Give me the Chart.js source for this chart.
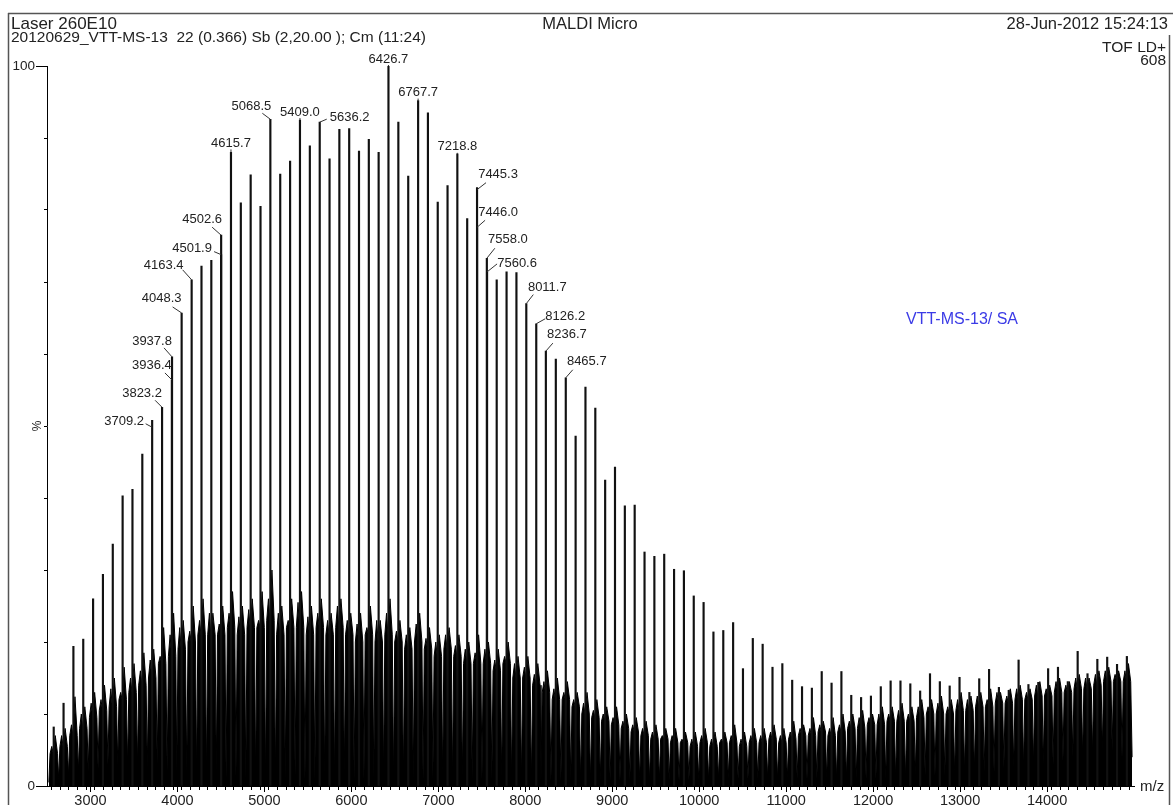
<!DOCTYPE html>
<html>
<head>
<meta charset="utf-8">
<title>VTT-MS-13 / SA — MALDI spectrum</title>
<script src="https://cdn.jsdelivr.net/npm/chart.js@4.4.1/dist/chart.umd.min.js"></script>
<style>
  html, body { margin: 0; padding: 0; background: #fff; }
  #wrap { width: 1173px; height: 805px; position: relative; }
</style>
</head>
<body>
<div id="wrap"><canvas id="spectrum" width="1173" height="805"></canvas></div>
<script>
// Main oligomer series (centroided m/z) and relative intensity (%)
const peakMz = [
  2577.2, 2690.4, 2803.6, 2916.8, 3030.0, 3143.2, 3256.4, 3369.6, 3482.8, 3596.0,
  3709.2, 3823.2, 3937.8, 4048.3, 4163.4, 4276.5, 4389.6, 4502.6, 4615.7, 4728.9,
  4842.1, 4955.3, 5068.5, 5182.0, 5295.5, 5409.0, 5522.6, 5636.2, 5749.1, 5862.0,
  5975.0, 6087.9, 6200.8, 6313.7, 6426.7, 6540.4, 6654.0, 6767.7, 6880.5, 6993.3,
  7106.0, 7218.8, 7332.0, 7445.3, 7558.0, 7671.4, 7784.8, 7898.3, 8011.7, 8126.2,
  8236.7, 8351.2, 8465.7, 8578.9, 8692.1, 8805.3, 8918.5, 9031.7, 9144.9, 9258.1,
  9371.3, 9484.5, 9597.7, 9710.9, 9824.1, 9937.3, 10050.5, 10163.7, 10276.9, 10390.1,
  10503.3, 10616.5, 10729.7, 10842.9, 10956.1, 11069.3, 11182.5, 11295.7, 11408.9, 11522.1,
  11635.3, 11748.5, 11861.7, 11974.9, 12088.1, 12201.3, 12314.5, 12427.7, 12540.9, 12654.1,
  12767.3, 12880.5, 12993.7, 13106.9, 13220.1, 13333.3, 13446.5, 13559.7, 13672.9, 13786.1,
  13899.3, 14012.5, 14125.7, 14238.9, 14352.1, 14465.3, 14578.5, 14691.7, 14804.9, 14918.1
];
const peakInt = [
  8.2, 11.5, 19.4, 20.4, 26.0, 29.4, 33.6, 40.3, 41.2, 46.1,
  50.8, 52.6, 59.6, 65.7, 70.3, 72.2, 73.0, 76.5, 88.0, 81.0,
  84.9, 80.5, 92.6, 85.0, 86.8, 92.5, 88.9, 92.2, 87.1, 91.2,
  91.3, 88.2, 89.8, 88.0, 100.0, 92.2, 84.7, 95.2, 93.5, 81.1,
  83.4, 87.8, 78.8, 83.1, 73.3, 70.3, 71.4, 71.3, 67.0, 64.2,
  60.4, 59.3, 56.7, 48.6, 55.4, 52.5, 42.5, 44.3, 38.9, 39.0,
  32.5, 31.9, 32.2, 30.1, 29.9, 26.4, 25.5, 21.4, 21.6, 22.7,
  16.3, 20.5, 19.7, 16.5, 17.0, 14.7, 13.8, 13.6, 15.9, 14.3,
  15.9, 12.6, 12.3, 12.5, 13.8, 14.6, 14.6, 14.2, 13.2, 15.6,
  14.5, 13.9, 15.1, 13.0, 14.9, 16.2, 13.7, 13.3, 17.5, 14.1,
  14.4, 16.3, 16.5, 14.5, 18.7, 15.6, 17.6, 17.9, 16.9, 18.0
];

// Background cluster around each oligomer:
// valley before it, cluster level, leading spike, trailing satellite spike
const valleyInt = [
  0.5, 1.0, 1.5, 2.0, 2.0, 2.5, 3.0, 3.0, 3.0, 3.0,
  2.5, 3.0, 2.0, 2.0, 2.0, 1.5, 1.5, 2.0, 1.0, 1.5,
  1.0, 1.0, 1.0, 1.0, 1.0, 1.5, 1.0, 1.0, 1.0, 1.0,
  1.5, 1.0, 1.0, 1.0, 1.5, 1.0, 1.0, 1.0, 1.0, 1.0,
  1.0, 1.0, 1.0, 1.0, 1.0, 1.0, 1.0, 1.0, 1.0, 0.8,
  0.8, 0.8, 0.8, 0.8, 0.8, 0.8, 0.8, 0.8, 0.8, 0.8,
  0.8, 0.8, 0.8, 0.8, 0.8, 0.8, 0.8, 0.8, 1.0, 1.0,
  1.0, 1.0, 1.0, 1.0, 1.0, 1.0, 1.0, 1.0, 1.0, 1.0,
  1.0, 1.0, 1.0, 1.0, 1.0, 1.0, 1.0, 1.0, 1.5, 1.5,
  1.5, 1.5, 1.5, 2.0, 2.0, 2.0, 2.0, 2.5, 2.5, 2.5,
  3.0, 3.0, 3.0, 3.5, 4.0, 4.0, 4.5, 5.0, 5.0, 4.0
];
const clusterInt = [
  4.5, 5.5, 7.0, 8.0, 9.5, 10.5, 11.0, 12.0, 13.0, 14.0,
  15.0, 17.0, 18.0, 19.0, 20.0, 21.0, 21.0, 21.0, 22.0, 21.0,
  22.0, 22.0, 23.0, 21.0, 22.0, 22.0, 21.0, 22.0, 21.0, 22.0,
  21.0, 20.0, 21.0, 20.0, 21.0, 20.0, 19.0, 20.0, 19.0, 18.0,
  19.0, 18.0, 17.0, 17.0, 17.0, 16.0, 17.0, 15.0, 15.0, 14.0,
  13.0, 12.0, 12.0, 11.0, 10.0, 9.5, 9.0, 8.5, 8.0, 7.5,
  7.0, 6.5, 6.5, 6.0, 6.0, 5.5, 6.0, 5.5, 6.0, 6.0,
  5.5, 6.0, 6.0, 6.5, 6.0, 6.5, 7.0, 7.0, 7.5, 7.0,
  7.5, 8.0, 8.0, 8.5, 8.5, 9.0, 9.0, 9.0, 9.5, 10.0,
  10.0, 10.0, 10.5, 10.5, 11.0, 11.0, 11.5, 11.5, 12.0, 12.0,
  12.5, 12.5, 13.0, 13.0, 13.5, 13.5, 14.0, 14.5, 14.5, 14.5
];
const leadInt = [
  5.5, 7.0, 8.5, 10.0, 11.5, 12.0, 13.5, 13.0, 15.0, 16.0,
  17.5, 18.0, 21.0, 22.0, 21.5, 23.0, 24.0, 22.5, 24.0, 23.5,
  24.5, 23.0, 26.0, 24.0, 23.0, 25.5, 23.5, 24.0, 23.0, 25.0,
  23.0, 22.5, 22.0, 23.0, 24.0, 21.5, 21.0, 22.5, 20.5, 20.0,
  21.0, 19.5, 19.0, 18.5, 19.0, 17.5, 18.0, 17.0, 16.5, 15.5,
  14.5, 13.5, 13.0, 12.0, 11.5, 10.5, 10.0, 9.5, 9.0, 8.5,
  8.0, 7.5, 7.0, 7.0, 6.5, 6.5, 7.0, 6.5, 6.5, 7.0,
  6.5, 7.0, 7.0, 7.5, 7.0, 7.5, 8.0, 8.0, 8.5, 8.0,
  8.5, 9.0, 9.5, 9.5, 10.0, 10.0, 10.5, 10.0, 11.0, 11.0,
  11.5, 11.0, 12.0, 12.0, 12.5, 12.0, 13.0, 12.5, 13.5, 13.0,
  14.0, 13.5, 14.5, 14.0, 15.0, 15.0, 15.5, 16.0, 15.5, 16.0
];
const satelliteInt = [
  7.0, 8.0, 12.4, 11.0, 13.0, 14.0, 15.0, 16.5, 17.0, 18.5,
  19.0, 22.0, 24.0, 23.0, 25.0, 26.0, 24.0, 25.0, 27.0, 25.0,
  26.0, 27.0, 30.0, 25.0, 26.0, 27.0, 25.0, 26.0, 24.0, 26.0,
  24.0, 24.0, 25.0, 23.0, 26.0, 23.0, 22.0, 24.0, 22.0, 21.0,
  22.0, 21.0, 20.0, 21.0, 20.0, 19.0, 20.0, 18.0, 18.0, 17.0,
  16.0, 15.0, 14.5, 13.0, 13.0, 12.0, 11.0, 11.0, 10.0, 9.5,
  9.0, 8.5, 8.0, 8.0, 7.5, 7.5, 8.0, 7.5, 7.5, 8.5,
  7.5, 8.0, 8.0, 8.5, 8.0, 9.0, 8.5, 9.5, 9.0, 9.5,
  10.0, 10.0, 10.5, 10.0, 11.0, 11.0, 11.5, 11.0, 12.0, 12.0,
  12.5, 12.0, 13.0, 12.5, 13.0, 13.5, 13.0, 13.5, 14.0, 13.5,
  14.5, 14.0, 15.0, 14.5, 15.5, 15.0, 16.0, 16.5, 16.0, 17.0
];

// Partly resolved neighbours of labelled oligomers
const shoulderMz = [3936.4, 4501.9, 7446.0, 7560.6];
const shoulderInt = [56.4, 73.8, 77.6, 71.4];

// Annotated masses
const labelMz = [
  3709.2, 3823.2, 3936.4, 3937.8, 4048.3, 4163.4, 4501.9, 4502.6, 4615.7, 5068.5,
  5409.0, 5636.2, 6426.7, 6767.7, 7218.8, 7445.3, 7446.0, 7558.0, 7560.6, 8011.7,
  8126.2, 8236.7, 8465.7
];

// Axis labels
const xTickLabels = [3000, 4000, 5000, 6000, 7000, 8000, 9000, 10000, 11000, 12000, 13000, 14000];
const yTickLabels = [0, 100];

// Label placement (px): [text dx, text dy, leader start dx, leader start dy, leader end drop]
const labelPlacement = [
  [-28, 1.5, -6.5, 3.5, 7],
  [-20, -14, -7, -7, 0],
  [-20, -14, -7, -7, 0],
  [-20, -15, -8, -9, 0],
  [-20, -15, -9, -6, 0],
  [-28, -14, -9, -10, 0],
  [-29, -6, -7, -3, 0],
  [-19, -16, -9, -8, 0],
  [0, -9, 0, 0, 0],
  [-19, -13, -8, -6, 0],
  [0, -8, 0, 0, 0],
  [30, -5, 7, -3, 0],
  [0, -7, 0, 0, 0],
  [0, -8, 0, 0, 0],
  [0, -7, 0, 0, 0],
  [21, -13, 9, -5, 2],
  [21, -15, 8, -7, 0],
  [21, -19, 8, -10, 0],
  [30, -8, 10, -8, 0],
  [21, -16, 7, -9, 0],
  [29, -7, 9, -5, 0],
  [21, -17, 7, -8, 0],
  [21, -16, 7, -8, 0]
];

const FONT = '"Liberation Sans", Arial, Helvetica, sans-serif';
const INK = '#222';

// Continuous background trace built from the cluster readings
const profile = [];
peakMz.forEach((m, i) => {
  profile.push({ x: m - 56, y: valleyInt[i] });
  profile.push({ x: m - 42, y: clusterInt[i] });
  profile.push({ x: m - 22, y: leadInt[i] });
  profile.push({ x: m - 6, y: clusterInt[i] });
  profile.push({ x: m + 18, y: satelliteInt[i] });
  profile.push({ x: m + 44, y: clusterInt[i] });
});
profile.push({ x: peakMz[peakMz.length - 1] + 60, y: valleyInt[valleyInt.length - 1] });

const sticks = peakMz.map((m, i) => ({ x: m, y: peakInt[i] }));
const shoulderSticks = shoulderMz.map((m, i) => ({ x: m, y: shoulderInt[i] }));

const decorations = {
  id: 'decorations',
  afterDraw(chart) {
    const { ctx } = chart;
    const xs = chart.scales.x, ys = chart.scales.y;
    ctx.save();

    // page frame
    ctx.strokeStyle = '#555';
    ctx.lineWidth = 1.5;
    ctx.beginPath();
    ctx.moveTo(8, 13.5); ctx.lineTo(1173, 13.5);
    ctx.moveTo(8.5, 13); ctx.lineTo(8.5, 805);
    ctx.moveTo(1169.5, 35); ctx.lineTo(1169.5, 805);
    ctx.stroke();

    // longer ticks at labelled positions
    ctx.strokeStyle = '#000';
    ctx.lineWidth = 1;
    ctx.beginPath();
    yTickLabels.forEach(v => {
      const py = Math.round(ys.getPixelForValue(v)) + 0.5;
      ctx.moveTo(ys.right - 11, py); ctx.lineTo(ys.right, py);
    });
    xTickLabels.forEach(v => {
      const px = Math.round(xs.getPixelForValue(v)) + 0.5;
      ctx.moveTo(px, xs.top); ctx.lineTo(px, xs.top + 6);
    });
    ctx.stroke();

    // header
    ctx.fillStyle = INK;
    ctx.textBaseline = 'middle';
    ctx.textAlign = 'left';
    ctx.font = '17px ' + FONT;
    ctx.fillText('Laser 260E10', 11, 24);
    ctx.font = '15.5px ' + FONT;
    ctx.fillText('20120629_VTT-MS-13  22 (0.366) Sb (2,20.00 ); Cm (11:24)', 11, 37.5);
    ctx.textAlign = 'center';
    ctx.font = '16.5px ' + FONT;
    ctx.fillText('MALDI Micro', 590, 24);
    ctx.textAlign = 'right';
    ctx.fillText('28-Jun-2012 15:24:13', 1168, 24);
    ctx.font = '15.5px ' + FONT;
    ctx.fillText('TOF LD+', 1166, 47.5);
    ctx.fillText('608', 1166, 61);

    // sample name
    ctx.textAlign = 'center';
    ctx.fillStyle = '#3b3be6';
    ctx.font = '16px ' + FONT;
    ctx.fillText('VTT-MS-13/ SA', 962, 320);

    // axis titles
    ctx.fillStyle = INK;
    ctx.font = '15px ' + FONT;
    ctx.textAlign = 'left';
    ctx.fillText('m/z', 1140, 787);
    ctx.save();
    ctx.translate(38, ys.getPixelForValue(50));
    ctx.rotate(-Math.PI / 2);
    ctx.textAlign = 'center';
    ctx.font = '12px ' + FONT;
    ctx.fillText('%', 0, 0);
    ctx.restore();

    // peak annotations
    ctx.font = '13px ' + FONT;
    ctx.textAlign = 'center';
    ctx.textBaseline = 'middle';
    ctx.fillStyle = INK;
    ctx.strokeStyle = '#333';
    ctx.lineWidth = 1;
    labelMz.forEach((m, i) => {
      let k = peakMz.indexOf(m);
      const v = k >= 0 ? peakInt[k] : shoulderInt[shoulderMz.indexOf(m)];
      const px = xs.getPixelForValue(m), py = ys.getPixelForValue(v);
      const [tx, ty, sx, sy, drop] = labelPlacement[i];
      const cx = px + tx, cy = py + ty;
      ctx.fillText(m.toFixed(1), cx, cy);
      ctx.beginPath();
      if (tx === 0) {
        ctx.moveTo(px, cy + 6); ctx.lineTo(px, py);
      } else {
        ctx.moveTo(px + sx, py + sy); ctx.lineTo(px, py + drop);
      }
      ctx.stroke();
    });
    ctx.restore();
  }
};

new Chart(document.getElementById('spectrum'), {
  type: 'bar',
  data: {
    datasets: [
      {
        type: 'line',
        data: profile,
        borderColor: '#000',
        backgroundColor: '#000',
        borderWidth: 1,
        pointRadius: 0,
        tension: 0,
        fill: 'origin',
        order: 2
      },
      {
        type: 'bar',
        data: sticks,
        backgroundColor: '#111',
        barThickness: 1.5,
        grouped: false,
        order: 1
      },
      {
        type: 'bar',
        data: shoulderSticks,
        backgroundColor: '#111',
        barThickness: 1.5,
        grouped: false,
        order: 1
      }
    ]
  },
  options: {
    responsive: false,
    animation: false,
    devicePixelRatio: 1,
    events: [],
    layout: { padding: { top: 66, right: 39, left: 0, bottom: 0 } },
    plugins: { legend: { display: false }, tooltip: { enabled: false }, title: { display: false } },
    scales: {
      x: {
        type: 'linear',
        min: 2500,
        max: 15000,
        offset: false,
        afterFit(scale) { scale.height = 19; },
        border: { display: true, color: '#000', width: 1 },
        grid: { display: true, drawOnChartArea: false, drawTicks: true, tickLength: 4, color: '#000', lineWidth: 1 },
        ticks: {
          stepSize: 100,
          autoSkip: false,
          maxRotation: 0,
          padding: 2,
          color: INK,
          font: { family: FONT, size: 14.5 },
          callback: (v) => xTickLabels.includes(Math.round(v)) ? String(Math.round(v)) : ''
        }
      },
      y: {
        type: 'linear',
        min: 0,
        max: 100,
        afterFit(scale) { scale.width = 47; },
        border: { display: true, color: '#000', width: 1 },
        grid: { display: true, drawOnChartArea: false, drawTicks: true, tickLength: 3, color: '#000', lineWidth: 1 },
        ticks: {
          stepSize: 10,
          autoSkip: false,
          padding: 9,
          color: INK,
          font: { family: FONT, size: 13.5 },
          callback: (v) => yTickLabels.includes(Math.round(v)) ? String(Math.round(v)) : ''
        }
      }
    }
  },
  plugins: [decorations]
});
</script>
</body>
</html>
